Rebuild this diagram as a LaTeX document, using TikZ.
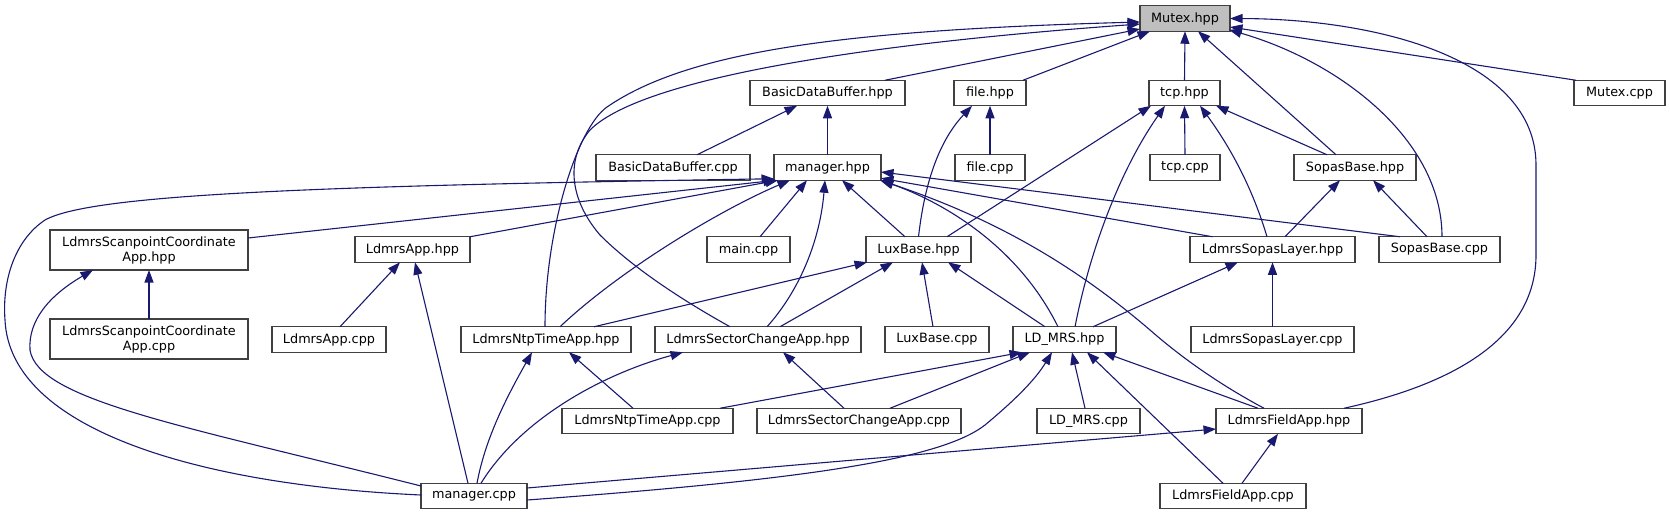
\documentclass[tikz,border=0pt]{standalone}
\usepackage{fontspec}
\setmainfont{DejaVu Sans}
\usetikzlibrary{arrows.meta}
\definecolor{edgecol}{HTML}{191970}
\definecolor{bordercol}{HTML}{404040}
\definecolor{rootfill}{HTML}{BFBFBF}
\begin{document}
\begin{tikzpicture}[x=1pt,y=-1pt,
  box/.style={draw=bordercol, line width=1.3pt, fill=white, minimum height=25.5pt, inner sep=0pt, outer sep=0pt, font=\fontsize{12.8}{15}\selectfont, align=center},
  tall/.style={minimum height=40pt},
  root/.style={fill=rootfill},
  edge/.style={draw=edgecol, line width=1.1pt, {Triangle[length=12.5pt,width=9pt]}-}]
\useasboundingbox (0,0) rectangle (1670,515);
\node[box,root,minimum width=90pt] (mutex) at (1185,18.5) {Mutex.hpp};
\node[box,minimum width=71pt] (tcph) at (1184.5,93) {tcp.hpp};
\node[box,minimum width=70pt] (tcpc) at (1185,167.5) {tcp.cpp};
\node[box,minimum width=122pt] (sbh) at (1355,167.5) {SopasBase.hpp};
\node[box,minimum width=165pt] (slh) at (1272.5,249.5) {LdmrsSopasLayer.hpp};
\node[box,minimum width=121pt] (sbc) at (1439.5,249.5) {SopasBase.cpp};
\node[box,minimum width=91pt] (mutexc) at (1619.5,93) {Mutex.cpp};
\node[box,minimum width=155pt] (bdbh) at (827.5,93) {BasicDataBuffer.hpp};
\node[box,minimum width=72pt] (fileh) at (990,93) {file.hpp};
\node[box,minimum width=154pt] (bdbc) at (673,167.5) {BasicDataBuffer.cpp};
\node[box,minimum width=107pt] (mgrh) at (827.5,167.5) {manager.hpp};
\node[box,minimum width=70pt] (filec) at (990,167.5) {file.cpp};
\node[box,minimum width=83pt] (mainc) at (748.5,249.5) {main.cpp};
\node[box,minimum width=105pt] (luxh) at (918.5,249.5) {LuxBase.hpp};
\node[box,tall,minimum width=198pt] (lscah) at (149,250) {LdmrsScanpointCoordinate\\App.hpp};
\node[box,minimum width=115pt] (apph) at (412.5,249.5) {LdmrsApp.hpp};
\node[box,tall,minimum width=198pt] (lscac) at (149,339) {LdmrsScanpointCoordinate\\App.cpp};
\node[box,minimum width=114pt] (appc) at (329,339.5) {LdmrsApp.cpp};
\node[box,minimum width=170pt] (ntph) at (546,339.5) {LdmrsNtpTimeApp.hpp};
\node[box,minimum width=106pt] (mgrc) at (474,496) {manager.cpp};
\node[box,minimum width=206pt] (sech) at (758,339.5) {LdmrsSectorChangeApp.hpp};
\node[box,minimum width=104pt] (luxc) at (937,339.5) {LuxBase.cpp};
\node[box,minimum width=103pt] (ldh) at (1064.5,339.5) {LD\_MRS.hpp};
\node[box,minimum width=171pt] (ntpc) at (647.5,421) {LdmrsNtpTimeApp.cpp};
\node[box,minimum width=204pt] (secc) at (859,421) {LdmrsSectorChangeApp.cpp};
\node[box,minimum width=103pt] (ldc) at (1088.5,421) {LD\_MRS.cpp};
\node[box,minimum width=146pt] (fah) at (1289,421) {LdmrsFieldApp.hpp};
\node[box,minimum width=146pt] (fac) at (1233,496) {LdmrsFieldApp.cpp};
\node[box,minimum width=163pt] (slc) at (1272.5,339.5) {LdmrsSopasLayer.cpp};
% Mutex.hpp
\draw[edge] (mutex.south) -- (tcph.north);
\draw[edge] ([xshift=13pt]mutex.south) -- ([xshift=-19pt]sbh.north);
\draw[edge] ([xshift=-1pt,yshift=1.5pt]mutex.south east) .. controls +(111,32) and +(0,-97) .. ([xshift=2.5pt]sbc.north);
\draw[edge] ([yshift=-8.5pt]mutex.east) -- ([xshift=2pt]mutexc.north west);
\draw[edge] (mutex.east) .. controls (1380,19) and (1536,60) .. (1536,165) -- (1536,255) .. controls (1536,340) and (1450,385) .. ([xshift=-18pt]fah.north east);
\draw[edge] ([yshift=-10.5pt]mutex.west) -- ([xshift=-20pt]bdbh.north east);
\draw[edge] ([xshift=10pt]mutex.south west) -- ([xshift=-3pt]fileh.north east);
\draw[edge] ([yshift=-3.5pt]mutex.west) .. controls (850,30) and (690,50) .. (607,107) .. controls (577,128) and (545,230) .. ([xshift=-1pt]ntph.north);
\draw[edge] ([yshift=-5.5pt]mutex.west) .. controls (850,45) and (640,80) .. (590,130) .. controls (565,160) and (570,200) .. (600,235) .. controls (640,275) and (700,310) .. ([xshift=-28pt]sech.north);
% BasicDataBuffer / file / tcp / SopasBase
\draw[edge] (bdbh.south) -- (mgrh.north);
\draw[edge] ([xshift=-30.5pt]bdbh.south) -- ([xshift=24pt]bdbc.north);
\draw[edge] (fileh.south) -- (filec.north);
\draw[edge] ([xshift=-18pt]fileh.south) .. controls (940,140) and (925,180) .. (luxh.north);
\draw[edge] (tcph.south) -- (tcpc.north);
\draw[edge] ([xshift=31.5pt]tcph.south) -- ([xshift=-28pt]sbh.north);
\draw[edge] ([xshift=15.5pt]tcph.south) .. controls (1225,140) and (1250,180) .. ([xshift=-5.5pt]slh.north);
\draw[edge] ([xshift=-33.5pt]tcph.south) -- ([xshift=28.5pt]luxh.north);
\draw[edge] ([xshift=-19.5pt]tcph.south) .. controls (1120,170) and (1090,250) .. ([xshift=10.5pt]ldh.north);
\draw[edge] ([xshift=-15pt]sbh.south) -- ([xshift=12.5pt]slh.north);
\draw[edge] ([xshift=18pt]sbh.south) -- ([xshift=-12.5pt]sbc.north);
% manager.hpp
\draw[edge] ([xshift=2pt]mgrh.south west) -- ([yshift=12pt]lscah.east);
\draw[edge] ([xshift=4pt]mgrh.south west) -- (apph.north east);
\draw[edge] ([yshift=1.5pt]mgrh.south west) .. controls (300,186) and (90,195) .. (45,220) .. controls (15,240) and (2,280) .. (5,320) .. controls (10,430) and (200,485) .. ([yshift=1pt]mgrc.west);
\draw[edge] ([xshift=-37.5pt]mgrh.south) .. controls (720,210) and (620,270) .. ([xshift=14pt]ntph.north);
\draw[edge] ([xshift=-20.5pt]mgrh.south) -- ([xshift=11.5pt]mainc.north);
\draw[edge] ([xshift=-2.5pt]mgrh.south) .. controls (820,240) and (800,290) .. ([xshift=9pt]sech.north);
\draw[edge] ([xshift=14.5pt]mgrh.south) -- ([xshift=-13.5pt]luxh.north);
\draw[edge] ([yshift=2pt]mgrh.south east) -- ([xshift=22.5pt]slh.north west);
\draw[edge] ([yshift=-4.5pt]mgrh.east) -- ([xshift=21pt]sbc.north west);
\draw[edge] (mgrh.south east) .. controls (950,205) and (1020,250) .. ([xshift=-6.5pt]ldh.north);
\draw[edge] ([xshift=-1pt]mgrh.south east) .. controls (1000,220) and (1080,270) .. (1150,330) .. controls (1190,365) and (1230,390) .. ([xshift=-25pt]fah.north);
% second level
\draw[edge] (lscah.south) -- (lscac.north);
\draw[edge] ([xshift=-56pt]lscah.south) .. controls (50,295) and (28,320) .. (30,350) .. controls (38,400) and (180,425) .. ([yshift=10pt]mgrc.west);
\draw[edge] ([xshift=-12.5pt]apph.south) -- ([xshift=11pt]appc.north);
\draw[edge] ([xshift=2.5pt]apph.south) -- ([xshift=-6pt]mgrc.north);
\draw[edge] ([xshift=1pt]luxh.south west) -- ([xshift=48pt]ntph.north);
\draw[edge] ([xshift=-25.5pt]luxh.south) -- ([xshift=22pt]sech.north);
\draw[edge] ([xshift=3.5pt]luxh.south) -- ([xshift=-4pt]luxc.north);
\draw[edge] ([xshift=29.5pt]luxh.south) -- ([xshift=-19.5pt]ldh.north);
\draw[edge] ([xshift=-34.5pt]slh.south) -- ([xshift=28.5pt]ldh.north);
\draw[edge] (slh.south) -- (slc.north);
\draw[edge] ([xshift=-14pt]ntph.south) .. controls (505,400) and (485,440) .. ([xshift=3pt]mgrc.north);
\draw[edge] ([xshift=23pt]ntph.south) -- ([xshift=-14.5pt]ntpc.north);
\draw[edge] ([xshift=-75pt]sech.south) .. controls (600,375) and (520,420) .. ([xshift=7pt]mgrc.north);
\draw[edge] ([xshift=25pt]sech.south) -- ([xshift=-15pt]secc.north);
\draw[edge] ([xshift=-42.5pt]ldh.south) -- ([xshift=-13pt]ntpc.north east);
\draw[edge] ([xshift=-34.5pt]ldh.south) -- ([xshift=31pt]secc.north);
\draw[edge] ([xshift=-12.5pt]ldh.south) .. controls (1035,380) and (1015,400) .. (985,425) .. controls (940,460) and (800,480) .. ([yshift=-4pt]mgrc.east);
\draw[edge] ([xshift=7.5pt]ldh.south) -- ([xshift=-3.5pt]ldc.north);
\draw[edge] ([xshift=22.5pt]ldh.south) -- ([xshift=-10pt]fac.north);
\draw[edge] ([xshift=38.5pt]ldh.south) -- ([xshift=-31pt]fah.north);
\draw[edge] ([yshift=-8pt]fah.west) -- ([yshift=8pt]mgrc.east);
\draw[edge] ([xshift=-11pt]fah.south) -- ([xshift=9pt]fac.north);
\end{tikzpicture}
\end{document}
